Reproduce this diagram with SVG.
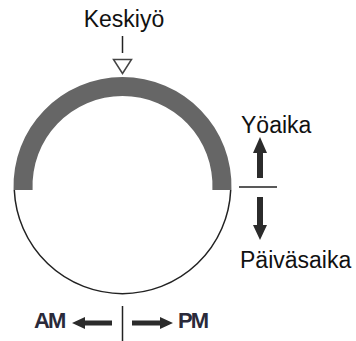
<svg xmlns="http://www.w3.org/2000/svg" width="356" height="341" viewBox="0 0 356 341">
<style>
.t{font-family:"Liberation Sans",Arial,sans-serif;font-size:23px;fill:#111}
.b{font-family:"Liberation Sans",Arial,sans-serif;font-size:22px;font-weight:bold;fill:#2a2a3a;letter-spacing:-2px}
.ln{stroke:#222;stroke-width:1.5;fill:none}
.ar{fill:#2b2b2b}
</style>
<rect width="356" height="341" fill="#fff"/>
<g id="clock">
<path d="M13.57,190 A109,109 0 1 1 231.43,190 L212.41,190 A90,90 0 1 0 32.59,190 Z" fill="#666"/>
<path d="M14.3,190 A108.3,108.3 0 0 0 230.7,190" class="ln" stroke-width="1.6"/>
</g>
<g id="midnight">
<text class="t" x="124" y="27" text-anchor="middle">Keskiyö</text>
<line x1="122.5" y1="36" x2="122.5" y2="53" class="ln"/>
<polygon points="113.5,59.5 131.5,59.5 122.5,73.5" fill="#fff" stroke="#444" stroke-width="1.5"/>
</g>
<g id="night">
<text class="t" x="241" y="133">Yöaika</text>
</g>
<g id="day">
<text class="t" x="240" y="268">Päiväsaika</text>
</g>
<g id="am">
<text class="b" x="34" y="328">AM</text>
</g>
<g id="pm">
<text class="b" x="178" y="328">PM</text>
</g>
<g id="connectors">
<line x1="239" y1="187" x2="277" y2="187" class="ln"/>
<path class="ar" d="M260,137 L267,153 L263,153 L263,178 L257,178 L257,153 L253,153 Z"/>
<path class="ar" d="M260,240 L267,225 L263,225 L263,197 L257,197 L257,225 L253,225 Z"/>
<line x1="122.5" y1="306" x2="122.5" y2="341" class="ln"/>
<path class="ar" d="M72,323 L85,317 L85,320.5 L112,320.5 L112,325.5 L85,325.5 L85,329 Z"/>
<path class="ar" d="M173,323 L160,317 L160,320.5 L132,320.5 L132,325.5 L160,325.5 L160,329 Z"/>
</g>
</svg>
